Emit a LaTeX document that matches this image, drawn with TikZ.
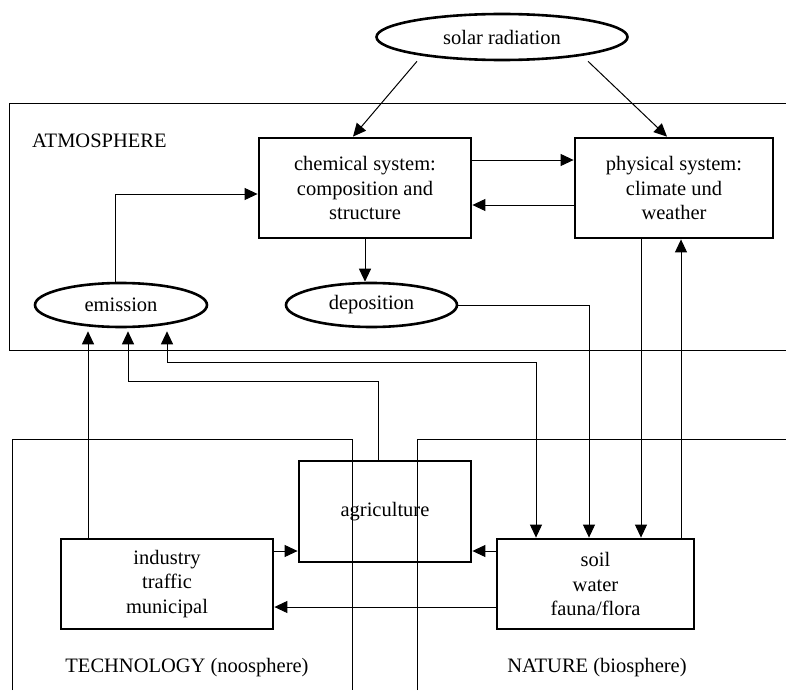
\documentclass[tikz,border=0pt]{standalone}
\usepackage{fontspec}
\setmainfont{Liberation Serif}
\usetikzlibrary{arrows.meta,shapes.geometric}
\begin{document}
\begin{tikzpicture}[x=1pt,y=-1pt,
  every node/.style={font=\fontsize{20.5}{24.5}\selectfont, align=center, inner sep=0pt},
  sysbox/.style={draw, rectangle, line width=2.8pt},
  blob/.style={draw, ellipse, line width=2.6pt},
  frame/.style={line width=1pt},
  tip/.style={},
  arr/.style={line width=1pt, -{Triangle[length=13pt,width=12pt]}},
  arrboth/.style={line width=1pt, {Triangle[length=13pt,width=12pt]}-{Triangle[length=13pt,width=12pt]}},
  sphere/.style={anchor=base}]
\useasboundingbox (0,0) rectangle (786,690);

% sphere frames
\draw[frame] (786,104) -- (9,104) -- (9,350) -- (786,350);
\draw[frame] (12,690) -- (12,439) -- (352,439) -- (352,690);
\draw[frame] (417,690) -- (417,439) -- (786,439);
\node[anchor=base west] (atm) at (32,147) {ATMOSPHERE};
\node[sphere] (tech) at (187,672) {TECHNOLOGY (noosphere)};
\node[sphere] (nat) at (597,672) {NATURE (biosphere)};

% systems
\node[blob, minimum width=251pt, minimum height=46pt] (solar) at (502,37) {solar radiation};
\node[sysbox, minimum width=212pt, minimum height=100pt] (chem) at (365,188) {chemical system:\\composition and\\structure};
\node[sysbox, minimum width=198pt, minimum height=100pt] (phys) at (674,188) {physical system:\\climate und\\weather};
\node[blob, minimum width=172pt, minimum height=44pt] (emission) at (121,305) {emission};
\node[blob, minimum width=171pt, minimum height=44pt] (deposition) at (371.5,305) {deposition};
\node[sysbox, minimum width=172pt, minimum height=101pt] (agri) at (385,511.5) {agriculture};
\node[sysbox, minimum width=212pt, minimum height=90pt] (industry) at (167,584) {industry\\traffic\\municipal};
\node[sysbox, minimum width=197pt, minimum height=90pt] (soil) at (595.5,584) {soil\\water\\fauna/flora};

% arrow ends just below the emission ellipse
\coordinate (e1) at ([xshift=-33pt,yshift=-3pt]emission.south);
\coordinate (e2) at ([xshift=7pt,yshift=-3pt]emission.south);
\coordinate (e3) at ([xshift=46pt,yshift=-3pt]emission.south);

% radiation
\draw[arr] ([xshift=-85pt]solar.south) -- ([xshift=-12pt]chem.north);
\draw[arr] ([xshift=86pt]solar.south) -- ([xshift=-7pt]phys.north);

% atmosphere exchanges
\draw[arr] ([yshift=28pt]chem.east) -- ([yshift=28pt]phys.west);
\draw[arr] ([yshift=-17pt]phys.west) -- ([yshift=-17pt]chem.east);
\draw[arr] ([xshift=-6pt]emission.north) |- ([yshift=-6pt]chem.west);
\draw[arr] (chem.south) -- (chem.south |- deposition.north);
\draw[arr] (deposition.east) -| ([xshift=-6.5pt]soil.north);
\draw[arr] ([xshift=-33pt]phys.south) -- ([xshift=-33pt]phys.south |- soil.north);
\draw[arr] ([xshift=7pt]phys.south |- soil.north) -- ([xshift=7pt]phys.south);

% emission sources
\draw[arr] ([xshift=-79pt]industry.north) -- (e1);
\draw[arr] ([xshift=-7pt]agri.north) -- ++(0,-78) -| (e2);
\draw[arrboth] (e3) -- ++(0,31) -| ([xshift=-59.5pt]soil.north);

% ground exchanges
\draw[arr] ([yshift=33pt]industry.east) -- ([yshift=33pt]industry.east -| agri.west);
\draw[arr] ([yshift=33pt]soil.west) -- ([yshift=33pt]soil.west -| agri.east);
\draw[arr] ([yshift=-23pt]soil.west) -- ([yshift=-23pt]soil.west -| industry.east);
\end{tikzpicture}
\end{document}
